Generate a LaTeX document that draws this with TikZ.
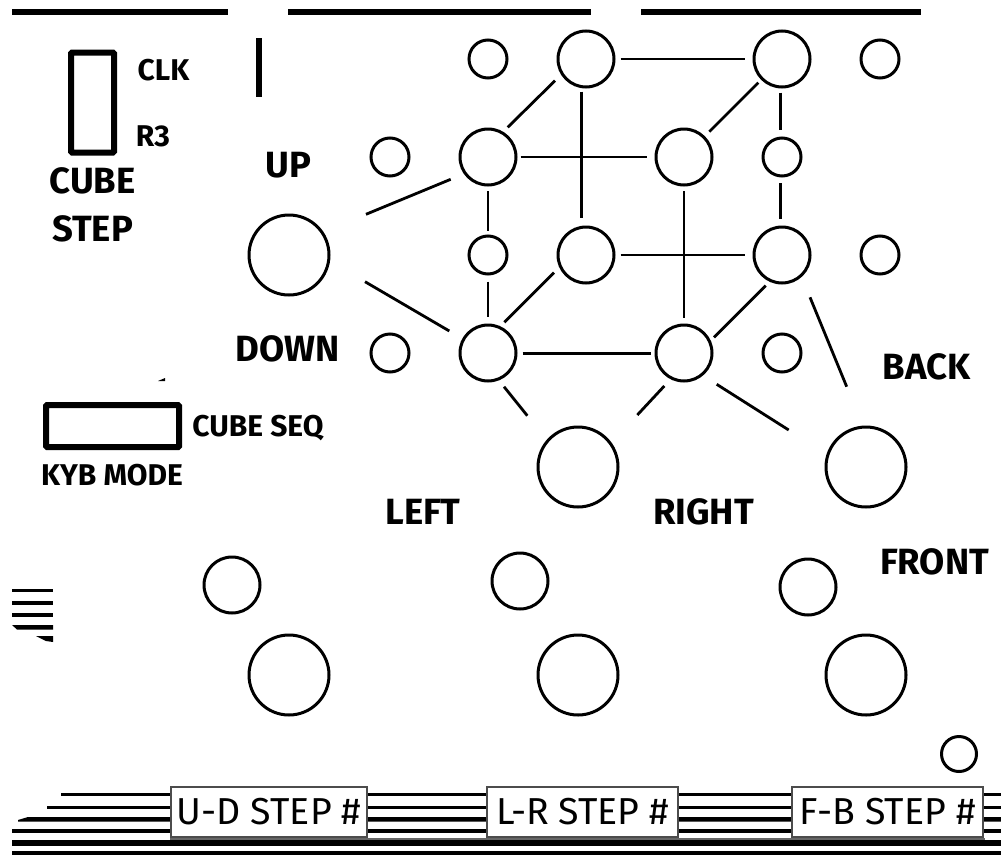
\documentclass[tikz,border=0pt]{standalone}
\usepackage{fontspec}
\setmainfont{Fira Sans}
\newfontfamily\lab{Fira Sans}[UprightFont=*-Bold]
\tikzset{
  x=1pt,y=-1pt,
  ring/.style={circle,draw=black,line width=3pt,fill=white,inner sep=0pt,outer sep=0pt},
  sm/.style={ring,minimum size=38pt},
  md/.style={ring,minimum size=56pt},
  bg/.style={ring,minimum size=80pt},
  conn/.style={draw=black,line width=2.8pt},
  bar/.style={draw=black,line width=6pt},
  strip/.style={draw=black,line cap=butt},
  sw/.style={draw=black,line width=6pt,fill=white,rounded corners=1pt,inner sep=0pt},
  tx/.style={font=\lab\fontsize{36.5}{36.5}\selectfont,inner sep=0pt,anchor=center},
  txs/.style={font=\lab\fontsize{30}{30}\selectfont,inner sep=0pt,anchor=center},
  stepbox/.style={draw=black!70,line width=2pt,fill=white,inner sep=0pt,minimum height=50pt,font=\fontsize{37.5}{37.5}\selectfont},
}
\begin{document}
\begin{tikzpicture}
\useasboundingbox (0,0) rectangle (1001,854);
% top bars
\coordinate (ba1) at (12,12); \coordinate (ba2) at (228,12);
\coordinate (bb1) at (288,12); \coordinate (bb2) at (591,12);
\coordinate (bc1) at (641,12); \coordinate (bc2) at (921,12);
\coordinate (bd1) at (259,38); \coordinate (bd2) at (259,97);
\draw[bar] (ba1) -- (ba2);
\draw[bar] (bb1) -- (bb2);
\draw[bar] (bc1) -- (bc2);
\draw[bar] (bd1) -- (bd2);
% switches
\node[sw,minimum width=43pt,minimum height=100pt] (sw1) at (92.5,102.5) {};
\node[sw,minimum width=133pt,minimum height=42pt] (sw2) at (112.5,426) {};
\node[txs] (clk) at (163.5,70) {CLK};
\node[txs] (r3) at (153,136) {R3};
\node[tx] (cube) at (92.5,181) {CUBE};
\node[tx] (stp) at (92.5,228.5) {STEP};
\node[txs] (seq) at (258,428) {CUBE SEQ};
\node[txs] (kyb) at (112,475) {KYB MODE};
\node[tx] (up) at (288.5,165) {UP};
\node[tx] (down) at (287.5,348.5) {DOWN};
\node[tx] (left) at (423,512) {LEFT};
\node[tx] (right) at (703.5,512) {RIGHT};
\node[tx] (back) at (926.5,367) {BACK};
\node[tx] (front) at (934.5,561.5) {FRONT};
% jacks
\node[sm] (t1) at (488,59) {};
\node[md] (t2) at (586,59) {};
\node[md] (t3) at (782,59) {};
\node[sm] (t4) at (880,59) {};
\node[sm] (s1) at (390,157) {};
\node[md] (c1) at (488,157) {};
\node[md] (c2) at (684,157) {};
\node[sm] (s2) at (782,157) {};
\node[bg] (u) at (289,255) {};
\node[sm] (s3) at (488,255) {};
\node[md] (m) at (586,255) {};
\node[md] (r) at (782,255) {};
\node[sm] (s4) at (880,255) {};
\node[sm] (s5) at (390,353) {};
\node[md] (d1) at (488,353) {};
\node[md] (d2) at (684,353) {};
\node[sm] (s6) at (782,353) {};
\node[bg] (bl) at (578,467) {};
\node[bg] (br) at (866,467) {};
\node[md] (k1) at (232,585) {};
\node[md] (k2) at (520,581) {};
\node[md] (k3) at (808,587) {};
\node[bg] (j1) at (289,675) {};
\node[bg] (j2) at (578,675) {};
\node[bg] (j3) at (866,675) {};
\node[ring,minimum size=35pt] (o) at (959,754) {};
% connectors
\draw[conn] ([shift={(34.7,0)}]t2.center) -- ([shift={(-37,0)}]t3.center);
\draw[conn] ([shift={(-31,21.7)}]t2.center) -- ([shift={(19.7,-29.7)}]c1.center);
\draw[conn] ([shift={(-4.3,32.7)}]t2.center) -- ([shift={(-4.3,-37)}]m.center);
\draw[conn] ([shift={(32.7,0)}]c1.center) -- ([shift={(-37.3,0)}]c2.center);
\draw[conn] ([shift={(77,-40.7)}]u.center) -- ([shift={(-37.3,22.3)}]c1.center);
\draw[conn] ([shift={(0,34)}]c1.center) -- ([shift={(0,-24)}]s3.center);
\draw[conn] ([shift={(-23.7,23.7)}]t3.center) -- ([shift={(25.3,-25.3)}]c2.center);
\draw[conn] ([shift={(-1.3,33.7)}]t3.center) -- ([shift={(-1.3,-27)}]s2.center);
\draw[conn] ([shift={(-1.3,26.3)}]s2.center) -- ([shift={(-1.3,-36)}]r.center);
\draw[conn] ([shift={(0,34)}]c2.center) -- ([shift={(0,-34.7)}]d2.center);
\draw[conn] ([shift={(34.7,0)}]m.center) -- ([shift={(-37,0)}]r.center);
\draw[conn] ([shift={(0,26.7)}]s3.center) -- ([shift={(0,-35.7)}]d1.center);
\draw[conn] ([shift={(-32,17.7)}]m.center) -- ([shift={(16.3,-30.7)}]d1.center);
\draw[conn] ([shift={(76,26.7)}]u.center) -- ([shift={(-38.7,-22)}]d1.center);
\draw[conn] ([shift={(34.7,0.5)}]d1.center) -- ([shift={(-33,0.5)}]d2.center);
\draw[conn] ([shift={(16,33.7)}]d1.center) -- ([shift={(-50.7,-51.3)}]bl.center);
\draw[conn] ([shift={(-19.7,33)}]d2.center) -- ([shift={(59.3,-52)}]bl.center);
\draw[conn] ([shift={(-16.3,30.7)}]r.center) -- ([shift={(30,-15.7)}]d2.center);
\draw[conn] ([shift={(28,42.3)}]r.center) -- ([shift={(-19.3,-80.3)}]br.center);
\draw[conn] ([shift={(32.7,31.3)}]d2.center) -- ([shift={(-77.3,-37)}]br.center);
% left stub lines
\draw[strip,line width=2.5pt] (12,590.7) -- (53,590.7);
\draw[strip,line width=4pt] (12,603) -- (53,603);
\draw[strip,line width=3.5pt] (12,615) -- (53,615);
\fill[black] (12,625) -- (53,625) -- (53,629.5) -- (17,629.5) -- cycle;
\fill[black] (36,636) -- (53,636) -- (53,642) -- (46,641) -- cycle;
\fill[black] (158,381) -- (165,378) -- (165,381) -- cycle;
% bottom strips
\draw[strip,line width=3pt] (61,794.3) -- (1001,794.3);
\draw[strip,line width=3pt] (47,807.3) -- (1001,807.3);
\fill[black] (18,820) -- (28,817) -- (1001,817) -- (1001,821.5) -- (18,821.5) -- cycle;
\draw[strip,line width=4.5pt] (12,831) -- (1001,831);
\draw[strip,line width=4pt,draw=black!60] (170,840) -- (985,840);
\draw[strip,line width=5.5pt] (12,843) -- (1001,843);
\draw[strip,line width=4pt] (12,853) -- (1001,853);
% step boxes
\node[stepbox,minimum width=196pt] (b1) at (269,812) {U-D STEP \#};
\node[stepbox,minimum width=191pt] (b2) at (582.5,812) {L-R STEP \#};
\node[stepbox,minimum width=191pt] (b3) at (887.5,812) {F-B STEP \#};
\end{tikzpicture}
\end{document}
